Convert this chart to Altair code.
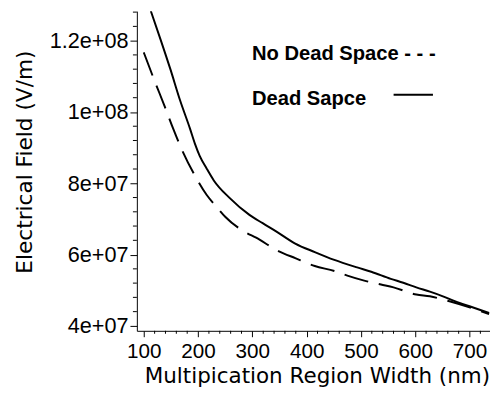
import altair as alt
import pandas as pd

# ---- data ----
solid_x = [113, 131, 149, 167, 185, 194, 203, 216, 229, 258, 294, 319, 343, 379, 415, 451,
           493, 519, 555, 578, 602, 627, 651, 674, 700, 736]
solid_y = [12.83, 12.03, 11.20, 10.32, 9.54, 9.12, 8.77, 8.41, 8.08, 7.59, 7.12, 6.88, 6.66,
           6.31, 6.07, 5.85, 5.64, 5.52, 5.32, 5.21, 5.08, 4.96, 4.83, 4.69, 4.55, 4.36]

dash_x = [100, 120, 138, 154, 172, 194, 216, 234, 250, 288, 306, 348, 379, 415,
          451, 475, 506, 537, 560, 602, 627, 663, 700, 736]
dash_y = [11.67, 10.87, 10.18, 9.54, 8.88, 8.22, 7.67, 7.34, 7.06, 6.62, 6.48,
          6.10, 5.90, 5.68, 5.54, 5.41, 5.27, 5.16, 5.08, 4.88, 4.83, 4.69, 4.52, 4.33]

x_major = [100, 200, 300, 400, 500, 600, 700]
x_minor = [v for v in range(120, 740, 20) if v % 100 != 0]
y_major = [4e7, 6e7, 8e7, 1e8, 1.2e8]
y_minor = [v * 1e6 for v in range(44, 129, 4) if v % 20 != 0]

legend_labels = ["No Dead Space - - -", "Dead Sapce"]
x_title = "Multipication Region Width (nm)"
y_title = "Electrical Field (V/m)"

XDOM = [87.3, 737.7]
YDOM = [3.862e7, 1.2828e8]

xs = alt.Scale(domain=XDOM, nice=False, zero=False)
ys = alt.Scale(domain=YDOM, nice=False, zero=False)

solid = pd.DataFrame({"x": solid_x, "y": [v * 1e7 for v in solid_y]})
dashed = pd.DataFrame({"x": dash_x, "y": [v * 1e7 for v in dash_y]})

x_axis = alt.Axis(
    values=x_major, format="d", title=x_title,
    labelFont="Liberation Sans", labelFontSize=21, labelColor="black",
    labelPadding=4, labelFlush=False, labelOverlap=False,
    tickSize=6, tickColor="black", domainColor="black", grid=False,
    titleFont="DejaVu Sans", titleFontSize=21.8, titleFontWeight="normal",
    titleColor="black", titleX=183, titleY=53, titleAlign="center",
    titleBaseline="alphabetic",
)
y_axis = alt.Axis(
    values=y_major, title=y_title,
    labelExpr="datum.value >= 1e8 ? format(datum.value/1e8, '~g') + 'e+08' : format(datum.value/1e7, '~g') + 'e+07'",
    labelFont="Liberation Sans", labelFontSize=22, labelColor="black",
    labelPadding=2, labelFlush=False, labelOverlap=False,
    tickSize=7, tickColor="black", domainColor="black", grid=False,
    titleFont="DejaVu Sans", titleFontSize=22, titleFontWeight="normal",
    titleColor="black", titleX=-114, titleY=153, titleAngle=270,
    titleAlign="center", titleBaseline="middle",
)

line_solid = alt.Chart(solid).mark_line(
    color="black", strokeWidth=2, clip=True, interpolate="monotone"
).encode(
    x=alt.X("x:Q", scale=xs, axis=x_axis),
    y=alt.Y("y:Q", scale=ys, axis=y_axis),
)

line_dash = alt.Chart(dashed).mark_line(
    color="black", strokeWidth=2, clip=True, interpolate="monotone",
    strokeDash=[25, 11]
).encode(
    x=alt.X("x:Q", scale=xs),
    y=alt.Y("y:Q", scale=ys),
)

yminor = alt.Chart(pd.DataFrame({"ym": y_minor})).mark_rule(
    color="black", strokeWidth=1
).encode(
    y=alt.Y("ym:Q", scale=ys),
    x=alt.value(-4), x2=alt.value(0),
)

xminor = alt.Chart(pd.DataFrame({"xm": x_minor})).mark_rule(
    color="black", strokeWidth=1
).encode(
    x=alt.X("xm:Q", scale=xs),
    y=alt.value(325), y2=alt.value(328),
)

leg1 = alt.Chart(pd.DataFrame({"label": [legend_labels[0]]})).mark_text(
    align="left", baseline="alphabetic", font="Liberation Sans",
    fontSize=20.5, fontWeight="bold", color="black"
).encode(x=alt.value(117), y=alt.value(50), text="label:N")

leg2 = alt.Chart(pd.DataFrame({"label": [legend_labels[1]]})).mark_text(
    align="left", baseline="alphabetic", font="Liberation Sans",
    fontSize=20.5, fontWeight="bold", color="black"
).encode(x=alt.value(117), y=alt.value(95), text="label:N")

leg_line = alt.Chart(pd.DataFrame({"label": [legend_labels[1]]})).mark_rule(
    color="black", strokeWidth=2
).encode(x=alt.value(261), x2=alt.value(301), y=alt.value(85))

chart = alt.layer(
    line_solid, line_dash, yminor, xminor, leg1, leg2, leg_line
).properties(
    width=359, height=325,
    autosize=alt.AutoSizeParams(type="none"),
    padding={"left": 131, "top": 0, "right": 0, "bottom": 58},
    background="white",
).configure_view(stroke=None)

chart.save("out.html", embed_options={"renderer": "svg", "actions": False})
